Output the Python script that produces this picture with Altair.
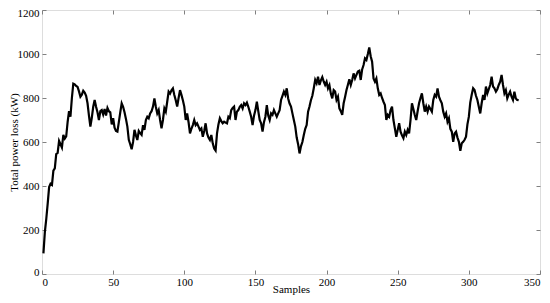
import altair as alt
import pandas as pd

power_loss = [
    94, 190, 250, 320, 395, 410, 405, 470, 480, 545,
    550, 605, 590, 575, 632, 615, 625, 690, 740, 715,
    800, 865, 862, 855, 850, 830, 806, 815, 833, 825,
    810, 776, 720, 670, 710, 760, 791, 760, 735, 700,
    740, 745, 725, 750, 720, 755, 740, 735, 680, 708,
    665, 650, 647, 690, 735, 776, 760, 735, 705, 670,
    610, 590, 567, 600, 655, 630, 609, 650, 640, 632,
    677, 655, 700, 715, 708, 730, 740, 761, 798, 760,
    730, 745, 700, 662, 700, 753, 738, 783, 829, 820,
    835, 844, 814, 790, 761, 800, 836, 814, 790, 761,
    700, 730, 690, 639, 660, 677, 700, 677, 685, 670,
    655, 662, 624, 650, 685, 639, 620, 609, 632, 594,
    570, 561, 639, 680, 708, 695, 685, 692, 688, 685,
    715, 708, 745, 755, 761, 700, 738, 745, 760, 768,
    753, 776, 768, 779, 760, 738, 715, 677, 720, 745,
    783, 740, 700, 685, 647, 690, 715, 768, 720, 700,
    730, 723, 745, 730, 715, 730, 745, 791, 810, 829,
    814, 844, 798, 775, 761, 730, 700, 670, 620, 590,
    548, 580, 600, 632, 660, 677, 738, 761, 790, 810,
    844, 882, 867, 897, 859, 880, 895, 875, 859, 874,
    844, 859, 820, 798, 836, 829, 791, 806, 753, 740,
    723, 776, 805, 836, 860, 885, 859, 882, 912, 889,
    905, 920, 924, 882, 930, 950, 980, 973, 1000, 1030,
    990, 965, 889, 874, 889, 844, 814, 821, 800, 783,
    768, 700, 723, 715, 745, 761, 700, 662, 624, 655,
    685, 647, 630, 617, 647, 632, 655, 639, 700, 776,
    750, 723, 700, 740, 776, 800, 821, 776, 738, 761,
    738, 761, 750, 738, 791, 814, 806, 844, 806, 790,
    776, 738, 715, 730, 692, 708, 660, 647, 601, 639,
    647, 620, 601, 560, 594, 601, 610, 624, 680, 715,
    780, 815, 844, 836, 810, 791, 760, 730, 776, 814,
    791, 852, 821, 840, 859, 897, 852, 844, 829, 840,
    859, 874, 905, 859, 821, 836, 798, 815, 829, 806,
    791, 829, 798, 791, 790,
]
samples = list(range(1, len(power_loss) + 1))

x_ticks = [0, 50, 100, 150, 200, 250, 300, 350]
y_ticks = [0, 200, 400, 600, 800, 1000, 1200]

df = pd.DataFrame({"Samples": samples, "Loss": power_loss})

FONT = "Liberation Serif"
GRAY = "#808080"

xs = alt.Scale(domain=[0, 350], nice=False, zero=False)
ys = alt.Scale(domain=[0, 1200], nice=False)

common_axis = dict(
    domain=False, grid=False, tickSize=4, offset=-4, tickColor=GRAY,
    tickWidth=1, labelFont=FONT, labelFontSize=11, labelColor="black",
    titleFont=FONT, titleFontSize=11, titleFontWeight="normal", titleColor="black",
    format="d",
)

main = alt.Chart(df).mark_line(color="black", strokeWidth=2.2).encode(
    x=alt.X("Samples:Q", scale=xs, axis=alt.Axis(
        orient="bottom", values=x_ticks, labelPadding=2, title="Samples",
        titleX=249, titleY=19, titleBaseline="middle", titleAlign="center",
        **common_axis)),
    y=alt.Y("Loss:Q", scale=ys, axis=alt.Axis(
        orient="left", values=y_ticks, labelPadding=3,
        labelFlush=True, labelFlushOffset=3,
        title="Total power loss (kW)", titleAngle=270, titleX=-32, titleY=132,
        titleBaseline="middle", titleAlign="center", **common_axis)),
)

frame = alt.Chart(df).mark_line(opacity=0).encode(
    x=alt.X("Samples:Q", scale=xs, axis=alt.Axis(
        orient="top", values=x_ticks, labels=False, title=None, **common_axis)),
    y=alt.Y("Loss:Q", scale=ys, axis=alt.Axis(
        orient="right", values=y_ticks, labels=False, title=None, **common_axis)),
)

chart = alt.layer(main, frame).resolve_axis(
    x="independent", y="independent"
).properties(
    width=498, height=264,
    autosize=alt.AutoSizeParams(type="none"),
    padding={"left": 34, "top": 2, "right": 2, "bottom": 21},
).configure_view(stroke=GRAY, strokeWidth=1).configure_axis(
    labelFont=FONT, titleFont=FONT
).configure(background="white", font=FONT)

chart.save("out.html", embed_options={"renderer": "svg", "actions": False})
